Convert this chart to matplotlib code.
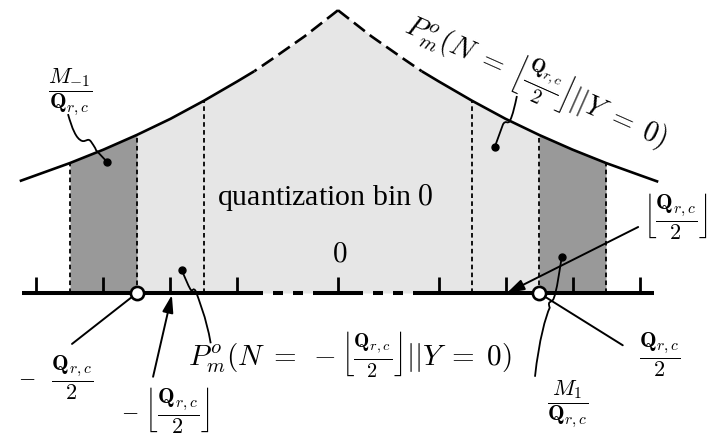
import matplotlib
matplotlib.use("Agg")
import matplotlib.pyplot as plt
from matplotlib.path import Path
from matplotlib.patches import PathPatch

plt.rcParams["mathtext.fontset"] = "cm"
plt.rcParams["font.family"] = ["Liberation Serif", "DejaVu Serif"]
plt.rcParams["lines.scale_dashes"] = False

# density curve (x in bin units, y = height above axis)
curve_x = [-4.75, -4.5, -4.0, -3.5, -3.0, -2.5, -2.0, -1.5, -1.25, -1.0, -0.5, 0.0,
           0.5, 1.0, 1.25, 1.5, 2.0, 2.5, 3.0, 3.5, 4.0, 4.5, 4.78]
curve_y = [1.67, 1.76, 1.94, 2.14, 2.36, 2.60, 2.87, 3.16, 3.31, 3.48, 3.83, 4.22,
           3.83, 3.48, 3.31, 3.16, 2.87, 2.60, 2.36, 2.14, 1.94, 1.76, 1.66]

bin_edges = [-4, -3, -2, 2, 3, 4]
light_range = (-3, 3)
dark_ranges = [(-4, -3), (3, 4)]
tick_pos = [-4.5, -3.5, -2.5, -1.5, 0, 1.5, 2.5, 3.5, 4.5]
axis_solid = [(-4.72, -1.12), (-0.34, 0.37), (1.12, 4.72)]
axis_dashed = [(-1.12, -0.34), (0.37, 1.12)]
open_circles = [-3, 3]
dots_x = [-3.45, -2.33, 2.34, 3.34]
dots_y = [1.96, 0.34, 2.18, 0.54]

fig = plt.figure(figsize=(7.19, 4.37), dpi=100)
ax = fig.add_axes([0, 0, 1, 1])
ax.set_xlim(-338 / 67, 381 / 67)
ax.set_ylim(-144 / 67, 293 / 67)
ax.axis("off")


def curve_at(x):
    return curve_y[curve_x.index(x)]


def piece(lo, hi):
    xs = [x for x in curve_x if lo <= x <= hi]
    return xs, [curve_at(x) for x in xs]


# shaded regions
xs, ys = piece(*light_range)
ax.fill_between(xs, 0, ys, color="#e6e6e6", lw=0, zorder=1)
for lo, hi in dark_ranges:
    xs, ys = piece(lo, hi)
    ax.fill_between(xs, 0, ys, color="#999999", lw=0, zorder=1)

# bin boundaries
for e in bin_edges:
    ax.plot([e, e], [0, curve_at(e)], color="k", lw=1.3,
            linestyle=(0, (3.3, 2.4)), zorder=2)

# curve: solid flanks, dashed near the peak
xs, ys = piece(-5, -1.25)
ax.plot(xs, ys, color="k", lw=1.9, zorder=3, solid_capstyle="butt")
xs, ys = piece(1.25, 5)
ax.plot(xs, ys, color="k", lw=1.9, zorder=3, solid_capstyle="butt")
xs, ys = piece(-1.25, 0)
ax.plot(xs[::-1], ys[::-1], color="k", lw=1.9, zorder=3,
        linestyle=(0, (10, 4.5)), dash_capstyle="butt")
xs, ys = piece(0, 1.25)
ax.plot(xs, ys, color="k", lw=1.9, zorder=3,
        linestyle=(0, (10, 4.5)), dash_capstyle="butt")

# axis
for lo, hi in axis_solid:
    ax.plot([lo, hi], [0, 0], color="k", lw=2.9, zorder=4, solid_capstyle="butt")
for lo, hi in axis_dashed:
    ax.plot([lo, hi], [0, 0], color="k", lw=2.9, zorder=4,
            linestyle=(7.2, (7.2, 7.2)), dash_capstyle="butt")
for t in tick_pos:
    ax.plot([t, t], [0, 0.24], color="k", lw=2.0, zorder=4, solid_capstyle="butt")

# arrows
arrow_kw = dict(arrowstyle="-|>,head_length=0.7,head_width=0.22", color="k",
                lw=1.4, mutation_scale=15, shrinkA=0, shrinkB=0)
ax.annotate("", xy=(-3.0, 0.0), xytext=(-3.97, -0.76),
            arrowprops=dict(arrow_kw, arrowstyle="-"), zorder=5)
ax.annotate("", xy=(-2.48, -0.03), xytext=(-2.76, -1.25), arrowprops=arrow_kw, zorder=5)
ax.annotate("", xy=(2.52, 0.0), xytext=(4.48, 0.985), arrowprops=arrow_kw, zorder=5)
ax.annotate("", xy=(3.0, 0.0), xytext=(4.25, -0.78),
            arrowprops=dict(arrow_kw, arrowstyle="-"), zorder=5)

# curly leader lines
M, C4, L = Path.MOVETO, Path.CURVE4, Path.LINETO
leaders = [
    ([(-4.03, 2.67), (-3.97, 2.46), (-3.91, 2.30), (-3.82, 2.27),
      (-3.76, 2.25), (-3.73, 2.33), (-3.68, 2.25),
      (-3.64, 2.19), (-3.63, 2.18), (-3.61, 2.13), (-3.45, 1.96)],
     [M, C4, C4, C4, C4, C4, C4, C4, C4, C4, L]),
    ([(-2.33, 0.34), (-2.29, 0.24), (-2.24, 0.12), (-2.20, 0.05),
      (-2.17, 0.01), (-2.16, 0.10), (-2.12, 0.02),
      (-2.08, -0.10), (-1.97, -0.35), (-1.90, -0.75)],
     [M, C4, C4, C4, C4, C4, C4, C4, C4, C4]),
    ([(2.67, 2.94), (2.64, 2.80), (2.61, 2.66), (2.57, 2.58),
      (2.54, 2.50), (2.50, 2.60), (2.46, 2.51), (2.34, 2.18)],
     [M, C4, C4, C4, C4, C4, C4, L]),
    ([(3.34, 0.54), (3.30, 0.30), (3.27, 0.05), (3.22, -0.08),
      (3.19, -0.16), (3.12, -0.10), (3.16, -0.22),
      (3.10, -0.35), (3.00, -0.70), (2.94, -1.25)],
     [M, C4, C4, C4, C4, C4, C4, C4, C4, C4]),
]
for verts, codes in leaders:
    ax.add_patch(PathPatch(Path(verts, codes), fill=False, lw=1.3,
                           edgecolor="k", zorder=5))

# markers
ax.plot(open_circles, [0] * len(open_circles), "o", ms=9.5, mfc="white",
        mec="k", mew=1.9, zorder=6)
ax.plot(dots_x, dots_y, "o", ms=5, color="k", zorder=6)

# labels
Q = r"\mathbf{Q}_{r,c}"
ax.text(-0.19, 1.42, "quantization bin $0$", fontsize=21.5, ha="center", va="center")
ax.text(0.03, 0.57, "$0$", fontsize=21, ha="center", va="center")
ax.text(2.96, 3.17,
        r"$P^o_m(N\;=\;\left\lfloor\frac{%s}{2}\right\rfloor||Y\;=\;0)$" % Q,
        fontsize=20.5, rotation=-24, rotation_mode="anchor", ha="center", va="center")
ax.text(0.17, -0.93,
        r"$P^o_m(N\;=\;-\left\lfloor\frac{%s}{2}\right\rfloor||Y\;=\;0)$" % Q,
        fontsize=21, ha="center", va="center")
ax.text(-4.0, 3.0, r"$\dfrac{M_{-1}}{%s}$" % Q, fontsize=16, ha="center", va="center")
ax.text(3.43, -1.67, r"$\dfrac{M_1}{%s}$" % Q, fontsize=16, ha="center", va="center")
ax.text(-4.22, -1.27, r"$-\;\;\;\dfrac{%s}{2}$" % Q, fontsize=16, ha="center", va="center")
ax.text(-2.58, -1.75, r"$-\ \left\lfloor\dfrac{%s}{2}\right\rfloor$" % Q,
        fontsize=16, ha="center", va="center")
ax.text(4.81, -0.93, r"$\dfrac{%s}{2}$" % Q, fontsize=16, ha="center", va="center")
ax.text(5.03, 1.15, r"$\left\lfloor\dfrac{%s}{2}\right\rfloor$" % Q,
        fontsize=16, ha="center", va="center")

fig.savefig("out.png", dpi=100)
